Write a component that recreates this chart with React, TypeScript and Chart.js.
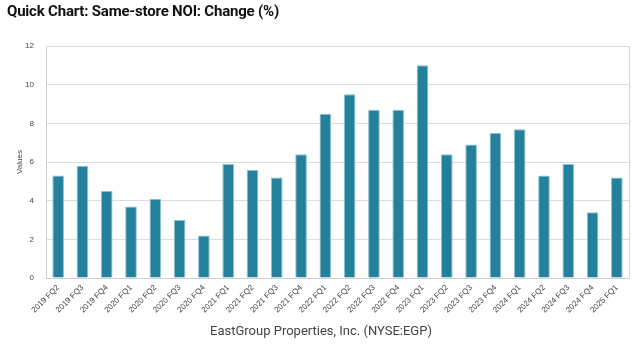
import React, { useEffect, useRef } from "react";
import { Chart, registerables } from "chart.js";

Chart.register(...registerables);

const categories = [
  "2019 FQ2", "2019 FQ3", "2019 FQ4",
  "2020 FQ1", "2020 FQ2", "2020 FQ3", "2020 FQ4",
  "2021 FQ1", "2021 FQ2", "2021 FQ3", "2021 FQ4",
  "2022 FQ1", "2022 FQ2", "2022 FQ3", "2022 FQ4",
  "2023 FQ1", "2023 FQ2", "2023 FQ3", "2023 FQ4",
  "2024 FQ1", "2024 FQ2", "2024 FQ3", "2024 FQ4",
  "2025 FQ1",
];

const noiChange = [
  5.3, 5.8, 4.5,
  3.7, 4.1, 3.0, 2.2,
  5.9, 5.6, 5.2, 6.4,
  8.5, 9.5, 8.7, 8.7,
  11.0, 6.4, 6.9, 7.5,
  7.7, 5.3, 5.9, 3.4,
  5.2,
];

const yTicks = [0, 2, 4, 6, 8, 10, 12];

const titleText = "Quick Chart: Same-store NOI: Change (%)";
const footerText = "EastGroup Properties, Inc. (NYSE:EGP)";
const yAxisTitle = "Values";

const rightBorder = {
  id: "rightBorder",
  afterDraw(chart: any) {
    const { ctx, chartArea } = chart;
    ctx.save();
    ctx.strokeStyle = "#d6d6d6";
    ctx.lineWidth = 1;
    ctx.beginPath();
    ctx.moveTo(Math.round(chartArea.right) + 0.5, chartArea.top);
    ctx.lineTo(Math.round(chartArea.right) + 0.5, chartArea.bottom);
    ctx.stroke();
    ctx.restore();
  },
};

export default function App() {
  const canvasRef = useRef<HTMLCanvasElement>(null);

  useEffect(() => {
    if (!canvasRef.current) return;
    const chart = new Chart(canvasRef.current, {
      type: "bar",
      data: {
        labels: categories,
        datasets: [
          {
            label: "Same-store NOI: Change (%)",
            data: noiChange,
            backgroundColor: "#23819c",
            borderColor: "#8cc3d2",
            borderWidth: 1,
            barPercentage: 0.48,
            categoryPercentage: 1,
          },
        ],
      },
      options: {
        animation: false,
        responsive: false,
        maintainAspectRatio: false,
        layout: { padding: { left: 0, right: 11, top: 46, bottom: 0 } },
        plugins: {
          legend: { display: false },
          tooltip: { enabled: false },
          title: { display: false },
        },
        scales: {
          x: {
            grid: { display: false, drawTicks: false },
            border: { color: "#cfcfcf", width: 1 },
            ticks: {
              color: "#444",
              font: { family: "'Liberation Sans', Arial, sans-serif", size: 8 },
              maxRotation: 45,
              minRotation: 45,
              autoSkip: false,
              padding: 5,
            },
            afterFit(scale: any) {
              scale.height = 76;
            },
          },
          y: {
            min: 0,
            max: 12,
            afterBuildTicks(scale: any) {
              scale.ticks = yTicks.map((v) => ({ value: v }));
            },
            grid: { color: "#dcdcdc", drawTicks: false, lineWidth: 1 },
            border: { color: "#cfcfcf", width: 1 },
            ticks: {
              color: "#444",
              font: { family: "'Liberation Sans', Arial, sans-serif", size: 8 },
              padding: 12,
            },
            title: {
              display: true,
              text: yAxisTitle,
              color: "#444",
              font: { family: "'Liberation Sans', Arial, sans-serif", size: 8 },
              padding: { top: 15, bottom: 0 },
            },
            afterFit(scale: any) {
              scale.width = 46;
            },
          },
        },
      },
      plugins: [rightBorder],
    });
    return () => chart.destroy();
  }, []);

  return (
    <div
      style={{
        position: "absolute",
        left: 0,
        top: 0,
        width: 640,
        height: 354,
        background: "#fff",
        overflow: "hidden",
      }}
    >
      <canvas
        ref={canvasRef}
        width={640}
        height={354}
        style={{ position: "absolute", left: 0, top: 0, width: 640, height: 354 }}
      />
      <div
        style={{
          position: "absolute",
          left: 7,
          top: 2,
          fontFamily: "Roboto, 'Open Sans', sans-serif",
          fontWeight: 700,
          fontSize: 15,
          letterSpacing: -0.2,
          color: "#111",
          whiteSpace: "nowrap",
        }}
      >
        {titleText}
      </div>
      <div
        style={{
          position: "absolute",
          left: 0,
          width: 642,
          top: 323,
          textAlign: "center",
          fontFamily: "Roboto, 'Open Sans', sans-serif",
          fontSize: 13,
          color: "#444",
          whiteSpace: "nowrap",
        }}
      >
        {footerText}
      </div>
    </div>
  );
}
